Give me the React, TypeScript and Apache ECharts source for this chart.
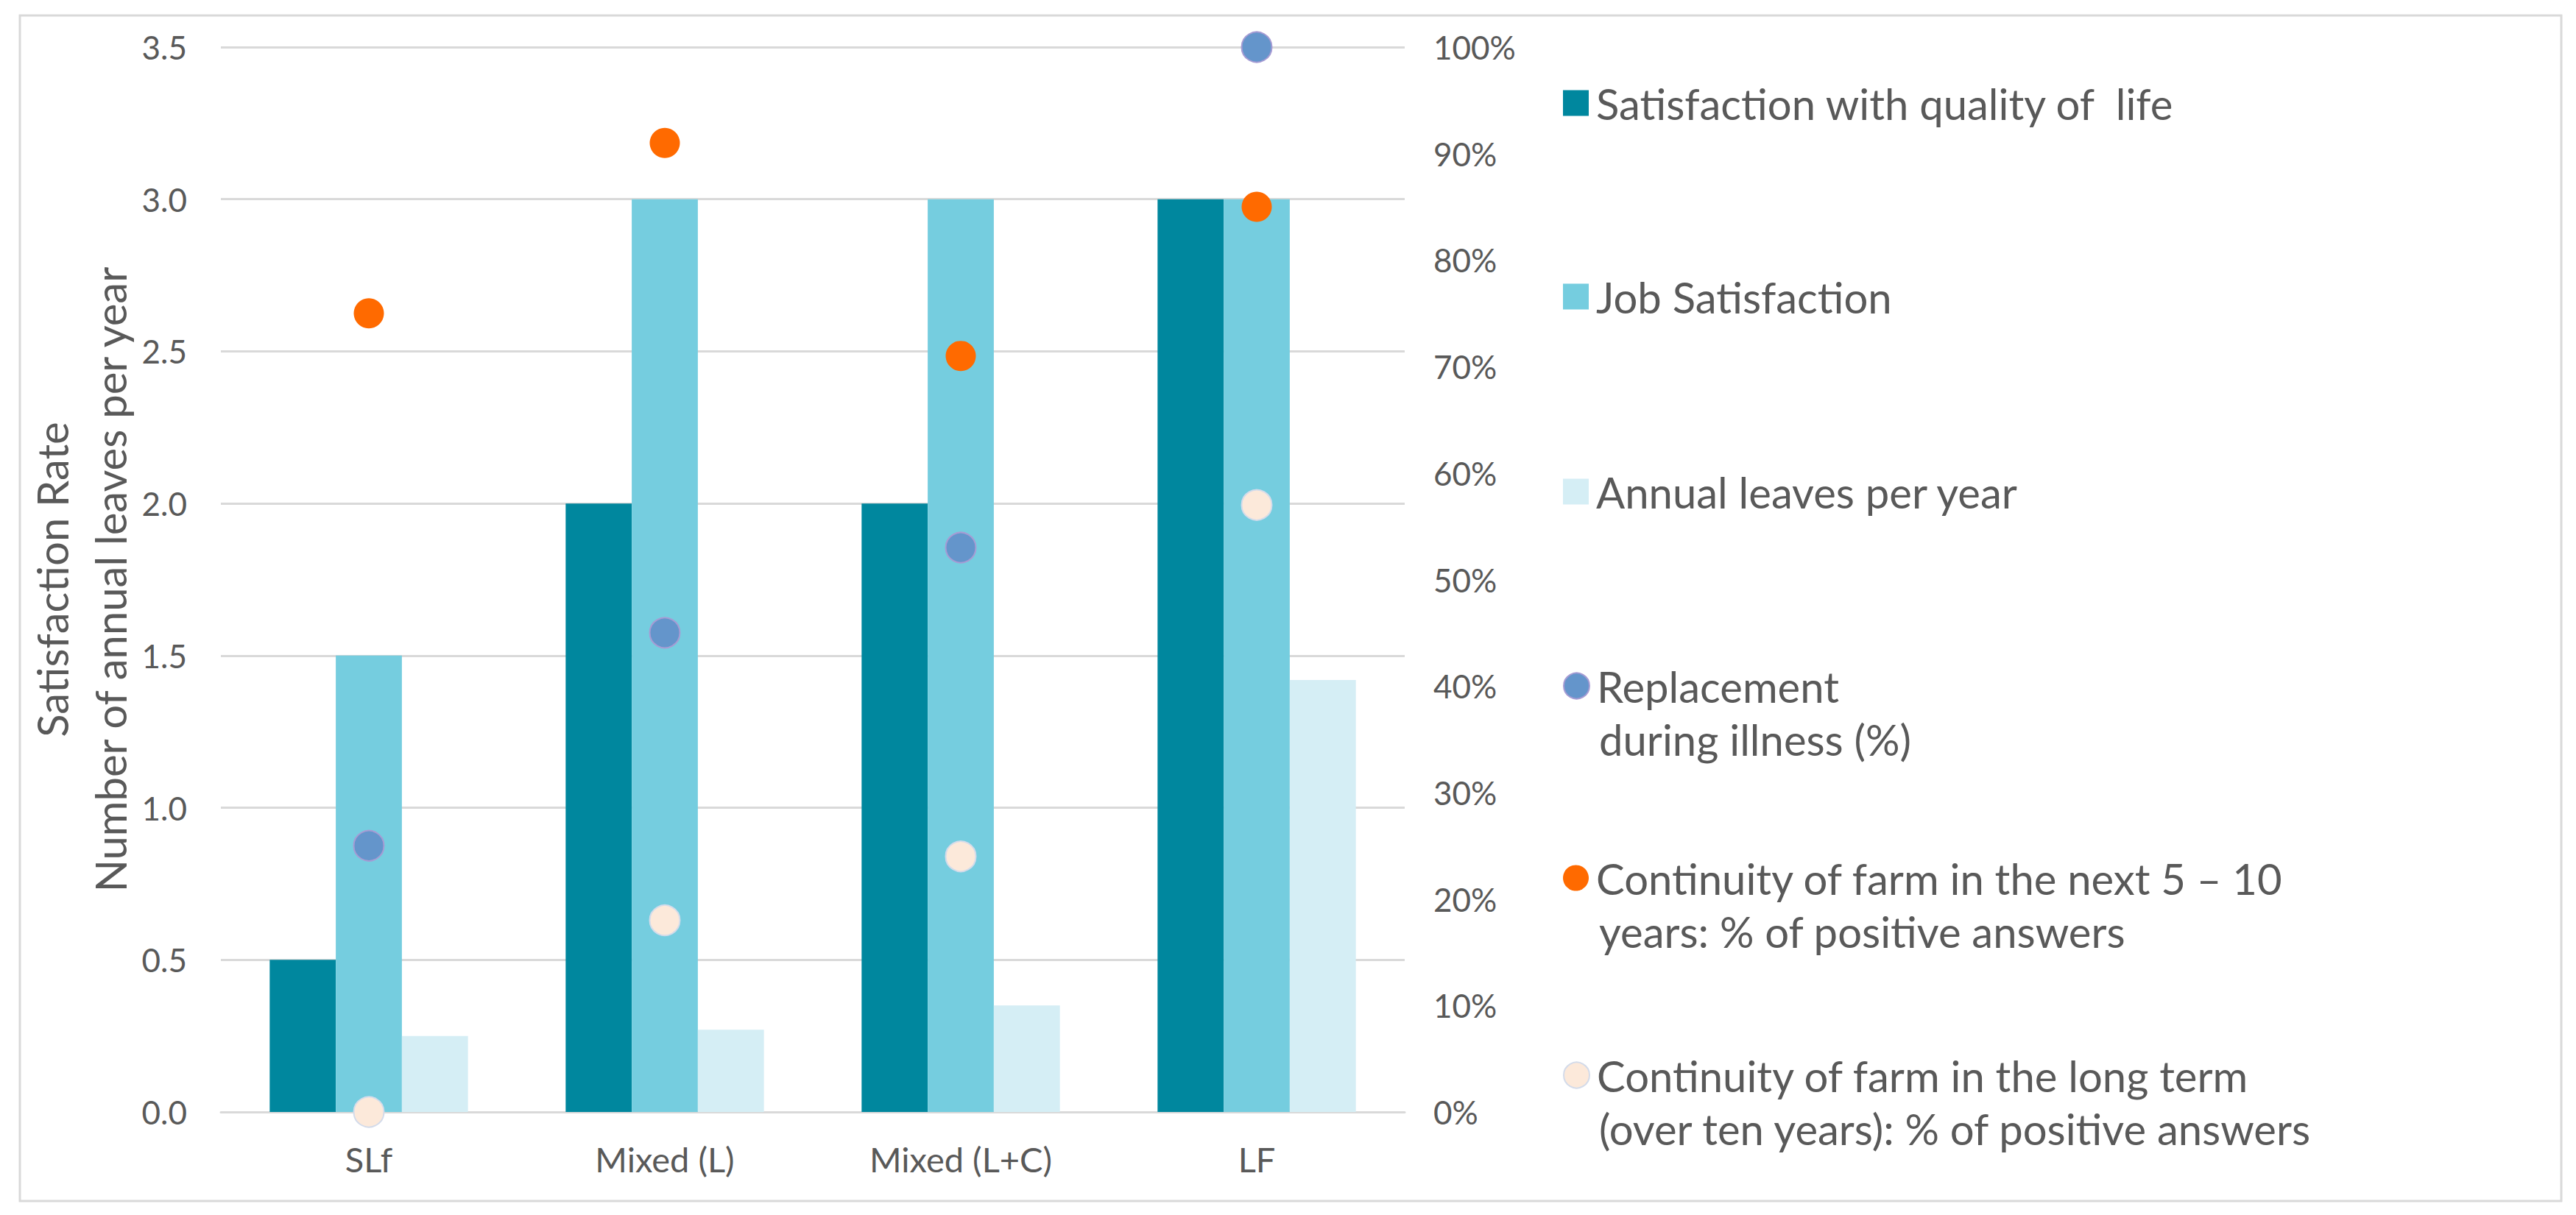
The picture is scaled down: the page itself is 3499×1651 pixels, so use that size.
import React, { useEffect, useRef } from "react";
import * as echarts from "echarts";

const categories = ["SLf", "Mixed (L)", "Mixed (L+C)", "LF"];
const qualityOfLife = [0.5, 2.0, 2.0, 3.0];
const jobSatisfaction = [1.5, 3.0, 3.0, 3.0];
const annualLeaves = [0.25, 0.27, 0.35, 1.42];
const replacementIllness = [25, 45, 53, 100];
const continuityNext = [75, 91, 71, 85];
const continuityLong = [0, 18, 24, 57];

const seriesNames = [
  "Satisfaction with quality of  life",
  "Job Satisfaction",
  "Annual leaves per year",
  "Replacement during illness (%)",
  "Continuity of farm in the next 5 – 10 years: % of positive answers",
  "Continuity of farm in the long term (over ten years): % of positive answers",
];
const legendLines = [
  ["Satisfaction with quality of  life"],
  ["Job Satisfaction"],
  ["Annual leaves per year"],
  ["Replacement", "during illness (%)"],
  ["Continuity of farm in the next 5 – 10", "years: % of positive answers"],
  ["Continuity of farm in the long term", "(over ten years): % of positive answers"],
];
const legendIcons = ["rect", "rect", "rect", "circle", "circle", "circle"];
const legendCenters = [141, 404, 669, 933, 1194, 1462];

const FONT = "Lato";
const TEXT = "#595959";
const GRID = "#D9D9D9";
const LH = 77;
const LEGEND_FS = 58;
const LEGEND_LEFT = 2118;
const ICON = 35;
const SHIFT = -6;
const TEXT_X = 2172;

export default function App() {
  const ref = useRef<HTMLDivElement>(null);
  useEffect(() => {
    if (!ref.current) return;
    const chart = echarts.init(ref.current, undefined, { renderer: "svg" });
    const legends = seriesNames.map((name, i) => ({
      show: true,
      orient: "vertical",
      left: LEGEND_LEFT,
      top: legendCenters[i] - LH / 2 + SHIFT,
      itemWidth: ICON,
      itemHeight: ICON,
      selectedMode: false,
      data: [{ name, icon: legendIcons[i] }],
      formatter: () => legendLines[i][0],
      textStyle: {
        fontFamily: FONT,
        fontSize: LEGEND_FS,
        lineHeight: LH,
        color: TEXT,
        padding: [0, 0, 0, 5],
      },
    }));
    const secondLines: any[] = [];
    legendLines.forEach((lines, i) => {
      if (lines.length > 1) {
        secondLines.push({
          type: "text",
          x: TEXT_X,
          y: legendCenters[i] + LH + SHIFT,
          silent: true,
          style: {
            text: lines[1],
            fontFamily: FONT,
            fontSize: LEGEND_FS,
            lineHeight: LH,
            fill: TEXT,
            align: "left",
            verticalAlign: "middle",
          },
        });
      }
    });
    chart.setOption({
      animation: false,
      backgroundColor: "#FFFFFF",
      textStyle: { fontFamily: FONT },
      grid: { left: 300, right: 3499 - 1908, top: 64, bottom: 1651 - 1511, containLabel: false },
      legend: legends,
      graphic: [
        {
          type: "rect",
          shape: { x: 27, y: 21, width: 3452, height: 1611 },
          style: { fill: "none", stroke: GRID, lineWidth: 3 },
          silent: true,
        },
        ...secondLines,
      ],
      xAxis: {
        type: "category",
        data: categories,
        axisLine: { show: true, lineStyle: { color: GRID, width: 3 } },
        axisTick: { show: false },
        axisLabel: { color: TEXT, fontSize: 47, fontFamily: FONT, margin: 40 },
      },
      yAxis: [
        {
          type: "value",
          min: 0,
          max: 3.5,
          interval: 0.5,
          name: "Satisfaction Rate\nNumber of annual leaves per year",
          nameLocation: "middle",
          nameGap: 106,
          nameTextStyle: { color: TEXT, fontSize: 58, fontFamily: FONT, lineHeight: 79 },
          axisLine: { show: false },
          axisTick: { show: false },
          axisLabel: {
            color: TEXT,
            fontSize: 44,
            fontFamily: FONT,
            margin: 46,
            formatter: (v: number) => v.toFixed(1),
          },
          splitLine: { show: true, lineStyle: { color: GRID, width: 3 } },
        },
        {
          type: "value",
          min: 0,
          max: 100,
          interval: 10,
          position: "right",
          axisLine: { show: false },
          axisTick: { show: false },
          axisLabel: { color: TEXT, fontSize: 44, fontFamily: FONT, margin: 39, formatter: "{value}%" },
          splitLine: { show: false },
        },
      ],
      series: [
        {
          name: seriesNames[0],
          type: "bar",
          data: qualityOfLife,
          barGap: "0%",
          barCategoryGap: "33%",
          itemStyle: { color: "#00879E" },
        },
        {
          name: seriesNames[1],
          type: "bar",
          data: jobSatisfaction,
          barGap: "0%",
          barCategoryGap: "33%",
          itemStyle: { color: "#75CDDF" },
        },
        {
          name: seriesNames[2],
          type: "bar",
          data: annualLeaves,
          barGap: "0%",
          barCategoryGap: "33%",
          itemStyle: { color: "#D5EEF5" },
        },
        {
          name: seriesNames[3],
          type: "scatter",
          yAxisIndex: 1,
          data: replacementIllness,
          symbol: "circle",
          symbolSize: 41,
          z: 5,
          itemStyle: { color: "#6495CB", borderColor: "#A69CD4", borderWidth: 2, opacity: 1 },
        },
        {
          name: seriesNames[4],
          type: "scatter",
          yAxisIndex: 1,
          data: continuityNext,
          symbol: "circle",
          symbolSize: 41,
          z: 5,
          itemStyle: { color: "#FF6A00", opacity: 1 },
        },
        {
          name: seriesNames[5],
          type: "scatter",
          yAxisIndex: 1,
          data: continuityLong,
          symbol: "circle",
          symbolSize: 41,
          z: 5,
          itemStyle: { color: "#FCE9DA", borderColor: "#D3DBEA", borderWidth: 2, opacity: 1 },
        },
      ],
    });
    return () => chart.dispose();
  }, []);
  return (
    <div
      ref={ref}
      style={{ position: "absolute", left: 0, top: 0, width: 3499, height: 1651, background: "#FFFFFF" }}
    />
  );
}
